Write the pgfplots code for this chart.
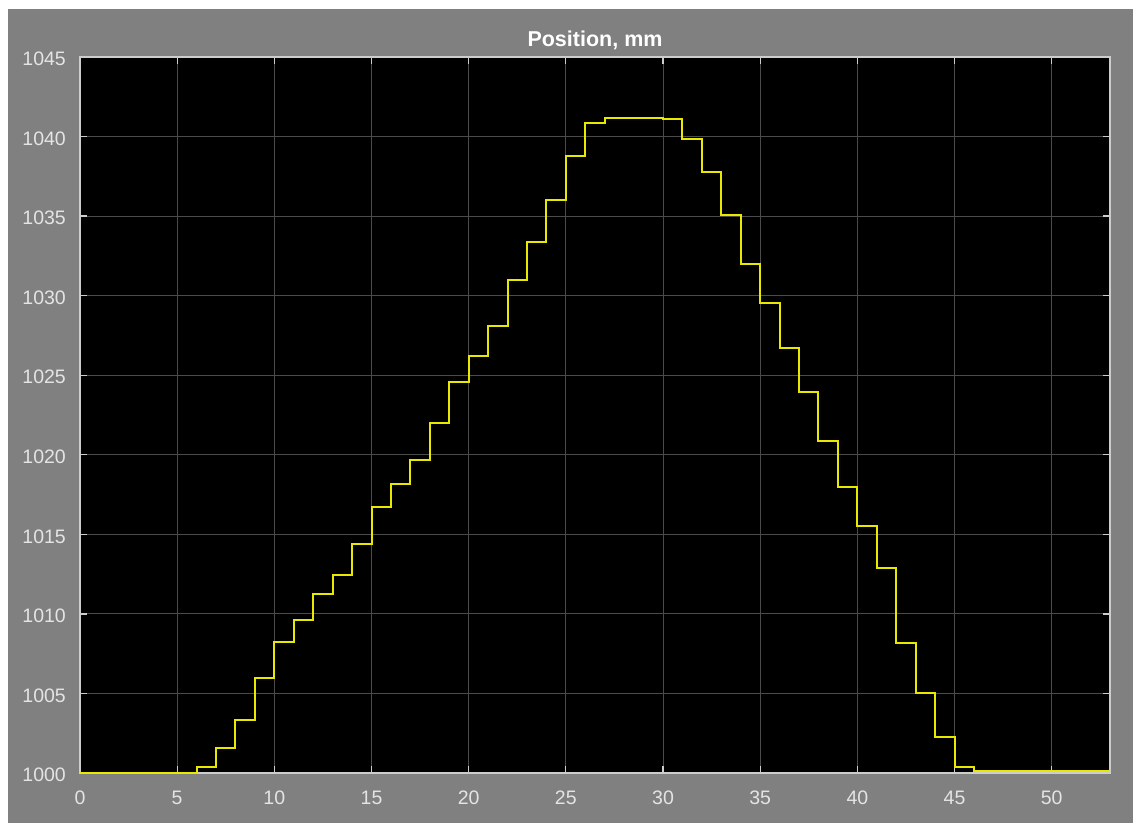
\documentclass[border=0pt]{standalone}
\usepackage{fontspec}
\setmainfont{Liberation Sans}
\usepackage{pgfplots}
\pgfplotsset{compat=1.18}
\definecolor{figgray}{RGB}{128,128,128}
\definecolor{gridgray}{RGB}{75,75,75}
\definecolor{boxgray}{RGB}{205,205,205}
\definecolor{labgray}{RGB}{228,228,228}
\definecolor{scopeyellow}{RGB}{232,232,0}
\begin{document}
\begin{tikzpicture}
\fill[white] (-80pt,-50pt) rectangle (1053pt,773pt);
\fill[figgray] (-72pt,-50pt) rectangle (1053pt,764pt);
\begin{axis}[
  at={(0pt,0pt)}, anchor=south west,
  scale only axis, width=1030pt, height=716pt,
  xmin=0, xmax=53, ymin=1000, ymax=1045,
  xtick={0,5,...,50}, ytick={1000,1005,...,1045},
  scaled y ticks=false,
  /pgf/number format/1000 sep={},
  /pgf/number format/assume math mode=true,
  ticklabel style={font=\fontsize{19.5}{20}\selectfont, text=labgray, inner sep=0pt},
  xticklabel style={anchor=north, yshift=-18pt},
  yticklabel style={anchor=east, xshift=-14pt, yshift=-2pt},
  axis background/.style={fill=black},
  axis line style={boxgray, line width=1.6pt},
  grid=major,
  major grid style={gridgray, line width=1pt},
  tick align=inside, tick pos=both,
  major tick length=7pt,
  tick style={boxgray, line width=1.3pt},
  every axis title/.style={at={(0.5,1)}, anchor=base, inner sep=0pt, yshift=10pt,
    font=\fontsize{21.5}{22}\selectfont\bfseries, text=white},
  title={Position, mm},
  clip=false,
]
\addplot[const plot, scopeyellow, line width=2pt] coordinates {
(0,1000) (6,1000.4) (7,1001.58) (8,1003.33) (9,1005.94) (10,1008.23)
(11,1009.6) (12,1011.25) (13,1012.44) (14,1014.42) (15,1016.73)
(16,1018.19) (17,1019.7) (18,1022.0) (19,1024.56) (20,1026.23)
(21,1028.08) (22,1031.0) (23,1033.35) (24,1036.0) (25,1038.8)
(26,1040.86) (27,1041.19) (28,1041.15) (30,1041.1) (31,1039.83)
(32,1037.8) (33,1035.1) (34,1032.0) (35,1029.52) (36,1026.7)
(37,1023.96) (38,1020.87) (39,1018.0) (40,1015.5) (41,1012.9)
(42,1008.16) (43,1005.0) (44,1002.27) (45,1000.4) (46,1000.12) (53,1000.12)
};
\end{axis}
\pgfresetboundingbox
\useasboundingbox (-80pt,-50pt) rectangle (1053pt,773pt);
\end{tikzpicture}
\end{document}
